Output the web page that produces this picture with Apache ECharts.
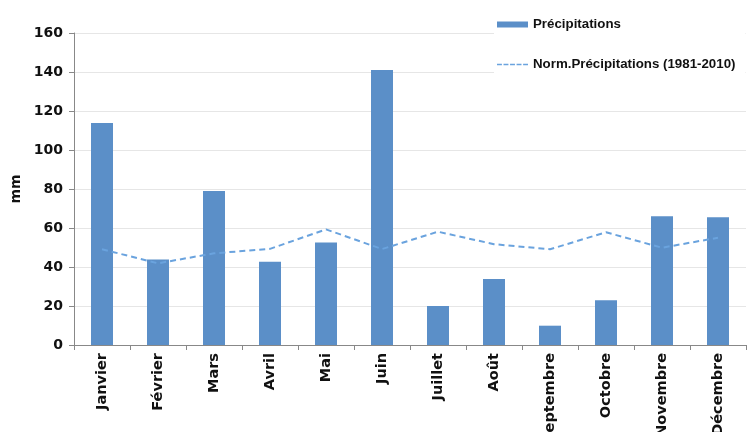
<!DOCTYPE html>
<html><head><meta charset="utf-8">
<script src="https://cdn.jsdelivr.net/npm/echarts@6/dist/echarts.min.js"></script>
<style>html,body{margin:0;padding:0;background:#fff}#c{width:747px;height:432px}</style>
</head><body><div id="c"></div>
<script>
const months = ['Janvier','Février','Mars','Avril','Mai','Juin','Juillet','Août','Septembre','Octobre','Novembre','Décembre'];
const precip = [113.8, 43.9, 79, 42.7, 52.6, 141, 20, 33.8, 9.9, 22.9, 66, 65.5];
const normals = [49.1, 41.9, 47, 49.3, 59.3, 49.2, 58.1, 51.7, 49.1, 57.8, 49.9, 55];
const yTicks = [0, 20, 40, 60, 80, 100, 120, 140, 160];
const fontF = '"DejaVu Sans", sans-serif';
const legF = '"Liberation Sans", Arial, sans-serif';
const chart = echarts.init(document.getElementById('c'));
chart.setOption({
  animation: false,
  grid: {left: 74, right: 1, top: 33, bottom: 87, containLabel: false, outerBoundsMode: 'none'},
  legend: {
    orient: 'vertical', left: 494, top: 13, itemGap: 27,
    backgroundColor: '#fff', padding: [5, 10, 5, 3],
    itemWidth: 31, itemHeight: 6,
    textStyle: {fontFamily: legF, fontWeight: 'bold', fontSize: 13.3, color: '#111'},
    data: [
      {name: 'Précipitations', icon: 'rect'},
      {name: 'Norm.Précipitations (1981-2010)', icon: 'path://M0,0h6v2h-6z M8,0h6v2h-6z M16,0h6v2h-6z M24,0h6v2h-6z M32,0h6v2h-6z'}
    ]
  },
  xAxis: {
    type: 'category', data: months, boundaryGap: true,
    axisLine: {lineStyle: {color: '#888', width: 1}},
    axisTick: {show: true, alignWithLabel: false, length: 5, lineStyle: {color: '#888'}},
    axisLabel: {rotate: 90, interval: 0, margin: 8, fontFamily: fontF, fontWeight: 'bold', fontSize: 14.5, color: '#111'}
  },
  yAxis: {
    type: 'value', min: yTicks[0], max: yTicks[yTicks.length-1], interval: 20,
    name: 'mm', nameLocation: 'middle', nameGap: 48, nameRotate: 90,
    nameTextStyle: {fontFamily: fontF, fontWeight: 'bold', fontSize: 14, color: '#111'},
    axisLine: {show: true, lineStyle: {color: '#888'}},
    axisTick: {show: true, length: 5, lineStyle: {color: '#888'}},
    axisLabel: {fontFamily: fontF, fontWeight: 'bold', fontSize: 14, color: '#111', margin: 11},
    splitLine: {show: true, lineStyle: {color: '#e6e6e6', width: 1}}
  },
  series: [
    {name: 'Précipitations', type: 'bar', data: precip, barWidth: 22,
     itemStyle: {color: '#5B8FC8'}},
    {name: 'Norm.Précipitations (1981-2010)', type: 'line', data: normals,
     symbol: 'none', z: 3,
     lineStyle: {color: '#6AA3DE', width: 2, type: [6, 4]},
     itemStyle: {color: '#6AA3DE'}}
  ]
});
</script></body></html>
